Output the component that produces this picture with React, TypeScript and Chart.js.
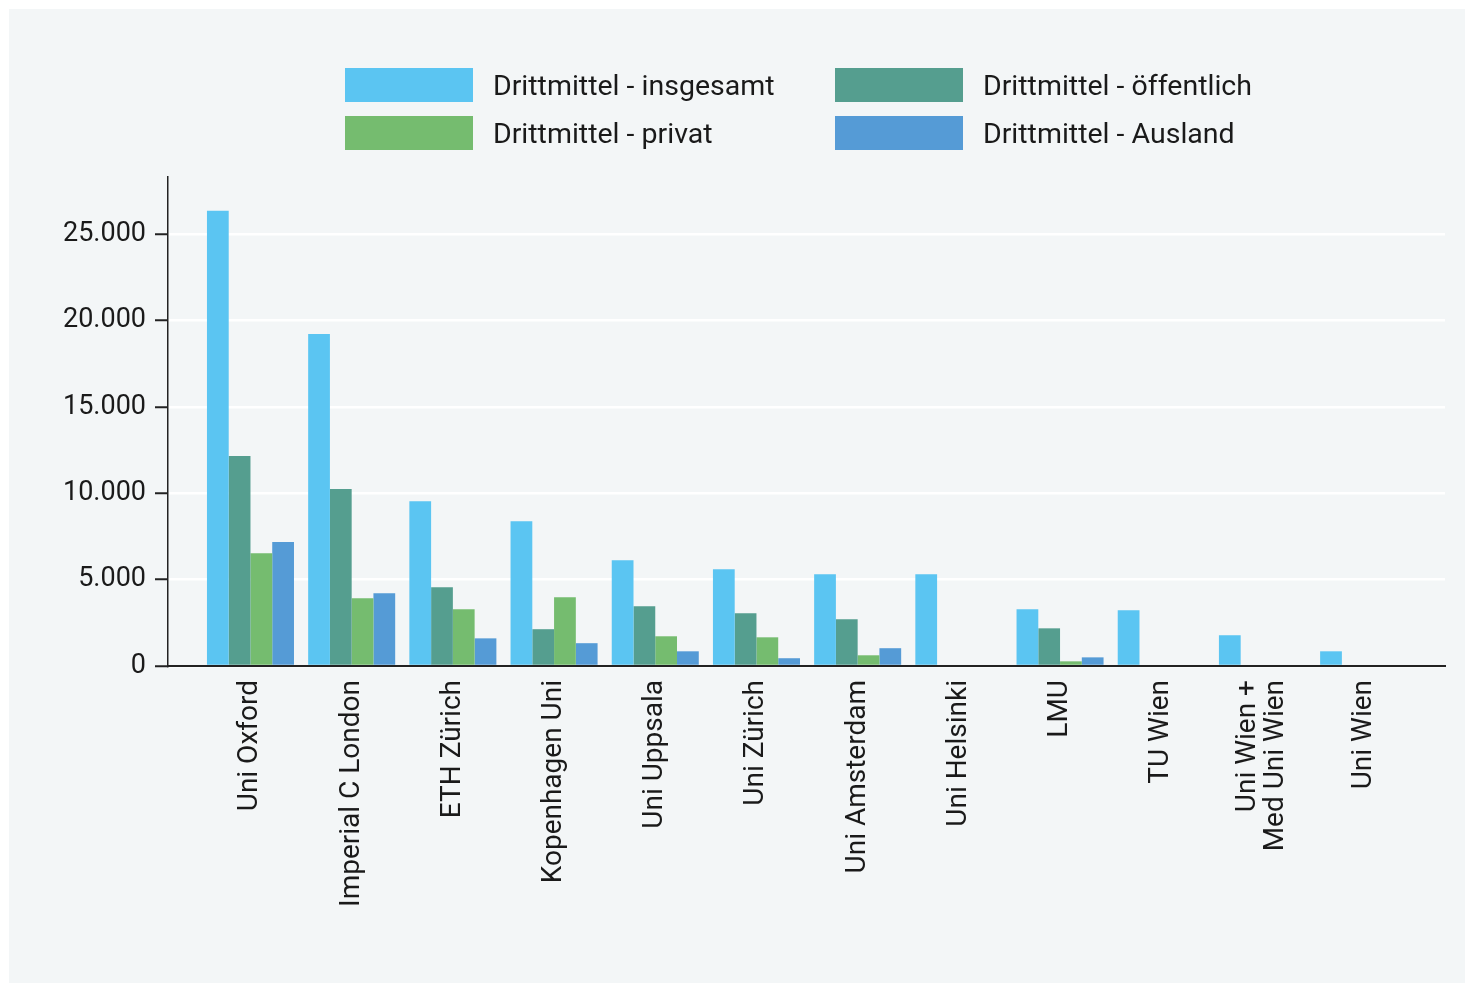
import React, { useEffect, useRef } from 'react';
import { Chart, registerables } from 'chart.js';

Chart.register(...registerables);

const categories: (string | string[])[] = [
  'Uni Oxford',
  'Imperial C London',
  'ETH Zürich',
  'Kopenhagen Uni',
  'Uni Uppsala',
  'Uni Zürich',
  'Uni Amsterdam',
  'Uni Helsinki',
  'LMU',
  'TU Wien',
  ['Uni Wien +', 'Med Uni Wien'],
  'Uni Wien',
];

const seriesNames = [
  'Drittmittel - insgesamt',
  'Drittmittel - öffentlich',
  'Drittmittel - privat',
  'Drittmittel - Ausland',
];

const insgesamt = [26350, 19220, 9540, 8380, 6120, 5600, 5310, 5310, 3290, 3230, 1780, 850];
const oeffentlich = [12150, 10240, 4560, 2130, 3460, 3050, 2700, null, 2180, null, null, null];
const privat = [6530, 3920, 3290, 3980, 1720, 1660, 620, null, 270, null, null, null];
const ausland = [7170, 4210, 1600, 1320, 850, 450, 1030, null, 500, null, null, null];

const yTicks = [0, 5000, 10000, 15000, 20000, 25000];

const colors = ['#5bc5f2', '#559e8f', '#75bc6f', '#559bd6'];

const fmt = (v: number) => String(v).replace(/\B(?=(\d{3})+(?!\d))/g, '.');

// Chart.js starts multi-line rotated labels at the tick; re-centre them.
const centerMultiLineLabels = {
  id: 'centerMultiLineLabels',
  beforeDraw(chart: any) {
    const scale = chart.scales.x;
    if (!scale) return;
    const items = scale.getLabelItems(chart.chartArea);
    items.forEach((item: any) => {
      if (Array.isArray(item.label) && item.label.length > 1 && !item._centred) {
        const lh = item.font.lineHeight;
        item.options.translation[0] -= ((item.label.length - 1) * lh) / 2;
        item._centred = true;
      }
    });
  },
};

export default function App() {
  const ref = useRef<HTMLCanvasElement>(null);

  useEffect(() => {
    const series = [insgesamt, oeffentlich, privat, ausland];
    const chart = new Chart(ref.current!, {
      type: 'bar',
      data: {
        datasets: series.map((vals, si) => ({
          label: seriesNames[si],
          data: vals.map((v, i) => ({ x: i, y: v })) as any,
          backgroundColor: colors[si],
          borderWidth: 0,
          categoryPercentage: 0.86,
          barPercentage: 1,
        })),
      },
      plugins: [centerMultiLineLabels],
      options: {
        animation: false,
        responsive: true,
        maintainAspectRatio: false,
        layout: { padding: { top: 168, right: 20, left: 0, bottom: 0 } },
        plugins: { legend: { display: false }, tooltip: { enabled: false } },
        scales: {
          x: {
            type: 'linear',
            min: -0.815,
            max: 11.804,
            offset: false,
            afterBuildTicks: (scale: any) => {
              scale.ticks = categories.map((_, i) => ({ value: i }));
            },
            afterFit: (scale: any) => {
              scale.height = 317;
            },
            grid: { display: false, drawTicks: false },
            border: { display: true, color: '#222', width: 2, z: 1 } as any,
            ticks: {
              autoSkip: false,
              maxRotation: 90,
              minRotation: 90,
              padding: 14,
              color: '#1a1a1a',
              font: { family: 'Roboto', size: 28, lineHeight: 1.0 },
              callback: (v: any) => categories[Math.round(Number(v))] as any,
            },
          },
          y: {
            min: 0,
            max: 28300,
            afterBuildTicks: (scale: any) => {
              scale.ticks = yTicks.map((v) => ({ value: v }));
            },
            afterFit: (scale: any) => {
              scale.width = 159;
            },
            grid: {
              color: '#ffffff',
              lineWidth: 2.5,
              drawTicks: true,
              tickLength: 13,
              tickColor: '#222',
              tickWidth: 2,
            } as any,
            border: { display: true, color: '#222', width: 1.5 },
            ticks: {
              includeBounds: false,
              padding: 9,
              color: '#1a1a1a',
              font: { family: 'Roboto', size: 27 },
              callback: (v: any) => fmt(Number(v)),
            },
          },
        },
      },
    });
    return () => chart.destroy();
  }, []);

  return (
    <div
      style={{
        position: 'fixed',
        left: 9,
        top: 9,
        right: 0,
        bottom: 0,
        background: '#f3f6f7',
        overflow: 'hidden',
      }}
    >
      <div style={{ position: 'absolute', left: 0, top: 0, width: 1456, height: 974 }}>
        <canvas ref={ref} />
      </div>
      <div
        style={{
          position: 'absolute',
          left: 336,
          top: 59,
          display: 'grid',
          gridTemplateColumns: '490px auto',
          rowGap: 14,
          fontFamily: 'Roboto',
          fontSize: 28.5,
          color: '#1a1a1a',
        }}
      >
        {seriesNames.map((name, i) => (
          <div key={name} style={{ display: 'flex', alignItems: 'center', height: 34 }}>
            <span
              style={{
                display: 'inline-block',
                width: 128,
                height: 34,
                background: colors[i],
                marginRight: 20,
                flex: '0 0 auto',
              }}
            />
            <span style={{ whiteSpace: 'nowrap' }}>{name}</span>
          </div>
        ))}
      </div>
    </div>
  );
}
